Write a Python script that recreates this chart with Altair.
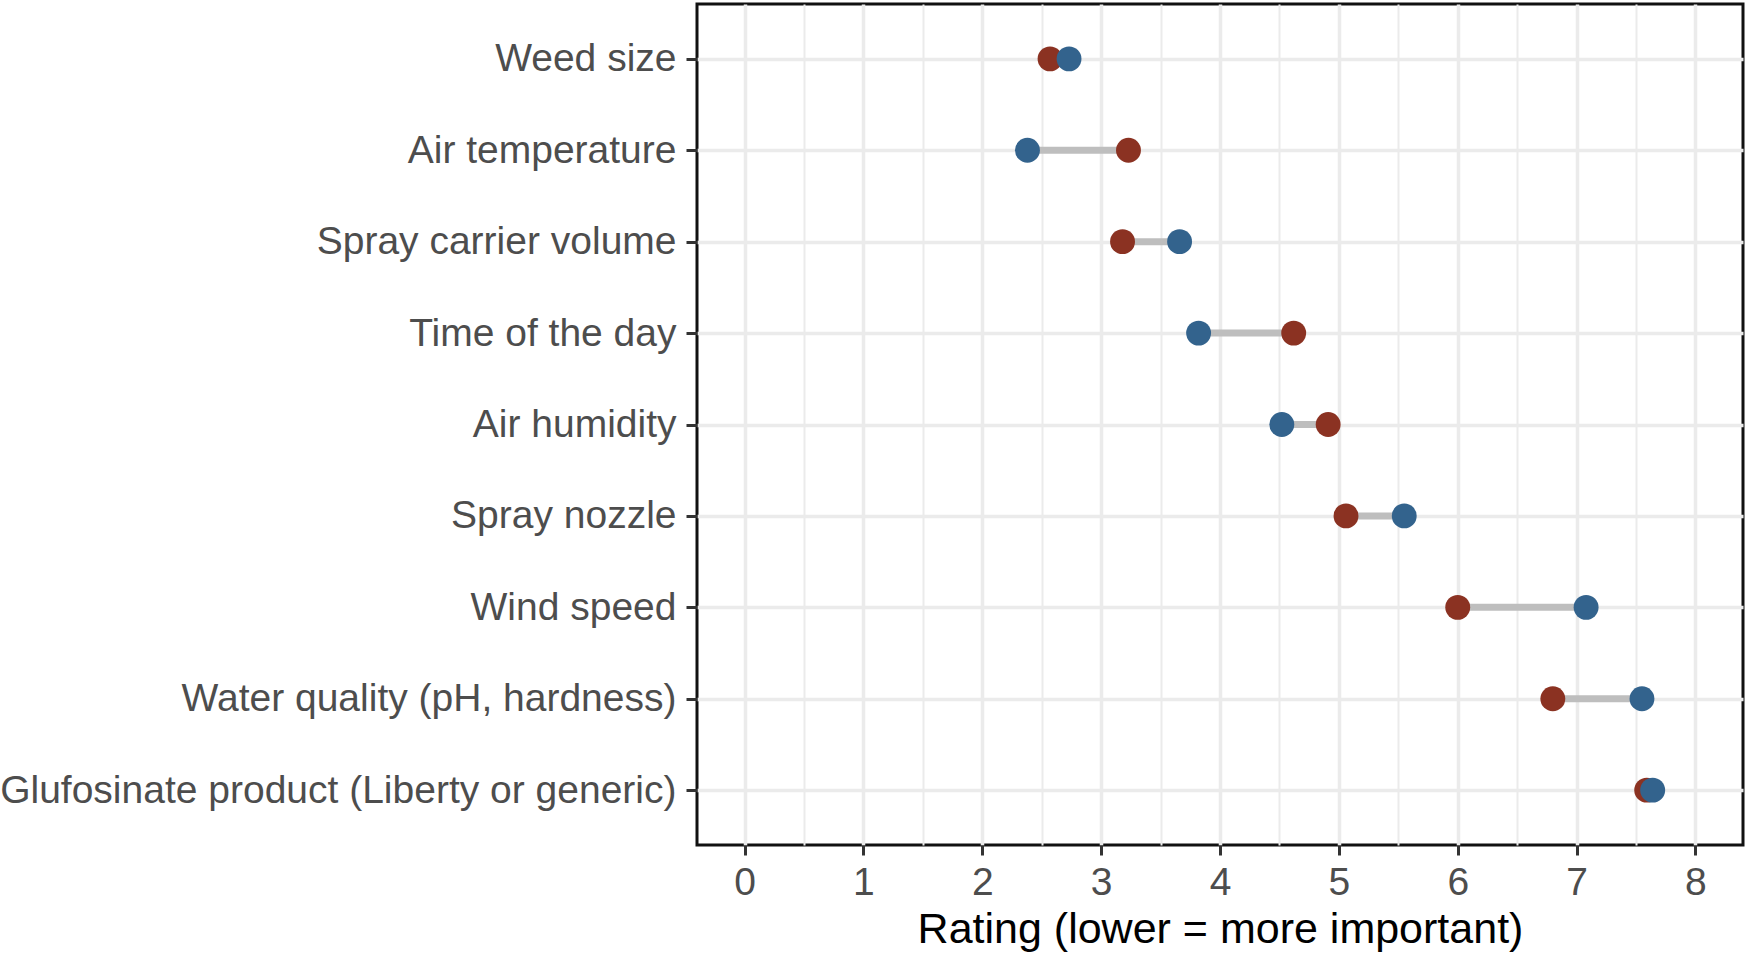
import altair as alt
import pandas as pd

factors = [
    "Weed size",
    "Air temperature",
    "Spray carrier volume",
    "Time of the day",
    "Air humidity",
    "Spray nozzle",
    "Wind speed",
    "Water quality (pH, hardness)",
    "Glufosinate product (Liberty or generic)",
]
group_a = [2.57, 3.23, 3.18, 4.62, 4.91, 5.06, 6.00, 6.80, 7.59]  # red
group_b = [2.73, 2.38, 3.66, 3.82, 4.52, 5.55, 7.08, 7.55, 7.64]  # blue
x_ticks = [i * 0.5 for i in range(17)]

RED = "#8B3222"
BLUE = "#33638D"
FONT = "Liberation Sans"

wide = pd.DataFrame({"factor": factors, "a": group_a, "b": group_b})
wide["lo"] = wide[["a", "b"]].min(axis=1)
wide["hi"] = wide[["a", "b"]].max(axis=1)

long = pd.concat([
    pd.DataFrame({"factor": factors, "rating": group_a, "group": "A", "order": 0}),
    pd.DataFrame({"factor": factors, "rating": group_b, "group": "B", "order": 1}),
])

is_int = "datum.value % 1 === 0"
x_scale = alt.Scale(domain=[-0.4, 8.4], nice=False, zero=False)
y_scale = alt.Scale(type="point", padding=0.6, domain=factors)

x_axis = alt.Axis(
    values=x_ticks,
    labelExpr=f"{is_int} ? format(datum.value, 'd') : ''",
    labelOverlap=False,
    labelFlush=False,
    labelFont=FONT,
    labelFontSize=39,
    labelColor="#4D4D4D",
    labelPadding=8,
    tickSize=10,
    tickWidth=3,
    tickColor="#333333",
    tickOpacity={"condition": {"test": is_int, "value": 1}, "value": 0},
    grid=True,
    gridColor="#EBEBEB",
    gridWidth={"condition": {"test": is_int, "value": 3.5}, "value": 2},
    domain=False,
    title="Rating (lower = more important)",
    titleFont=FONT,
    titleFontSize=43,
    titleFontWeight="normal",
    titleColor="#000000",
    titleBaseline="alphabetic",
    titleY=97,
)

y_axis = alt.Axis(
    title=None,
    labelFont=FONT,
    labelFontSize=39,
    labelColor="#4D4D4D",
    labelPadding=10,
    labelLimit=1000,
    tickSize=11,
    tickWidth=3,
    tickColor="#333333",
    grid=True,
    gridColor="#EBEBEB",
    gridWidth=3.5,
    domain=False,
)

segments = alt.Chart(wide).mark_rule(color="#BEBEBE", strokeWidth=7).encode(
    y=alt.Y("factor:O", scale=y_scale, axis=y_axis, sort=factors),
    x=alt.X("lo:Q", scale=x_scale, axis=x_axis),
    x2="hi:Q",
)

points = alt.Chart(long).mark_circle(size=620, opacity=1).encode(
    y=alt.Y("factor:O", scale=y_scale, sort=factors),
    x=alt.X("rating:Q", scale=x_scale),
    color=alt.Color("group:N", scale=alt.Scale(domain=["A", "B"], range=[RED, BLUE]), legend=None),
    order=alt.Order("order:Q"),
)

chart = alt.layer(segments, points).properties(
    width=1046,
    height=841,
    autosize=alt.AutoSizeParams(type="none"),
    padding={"left": 697, "top": 4, "right": 6, "bottom": 108},
    background="white",
).configure_view(stroke="#111111", strokeWidth=3)

chart.save("out.html", embed_options={"renderer": "svg", "actions": False})
